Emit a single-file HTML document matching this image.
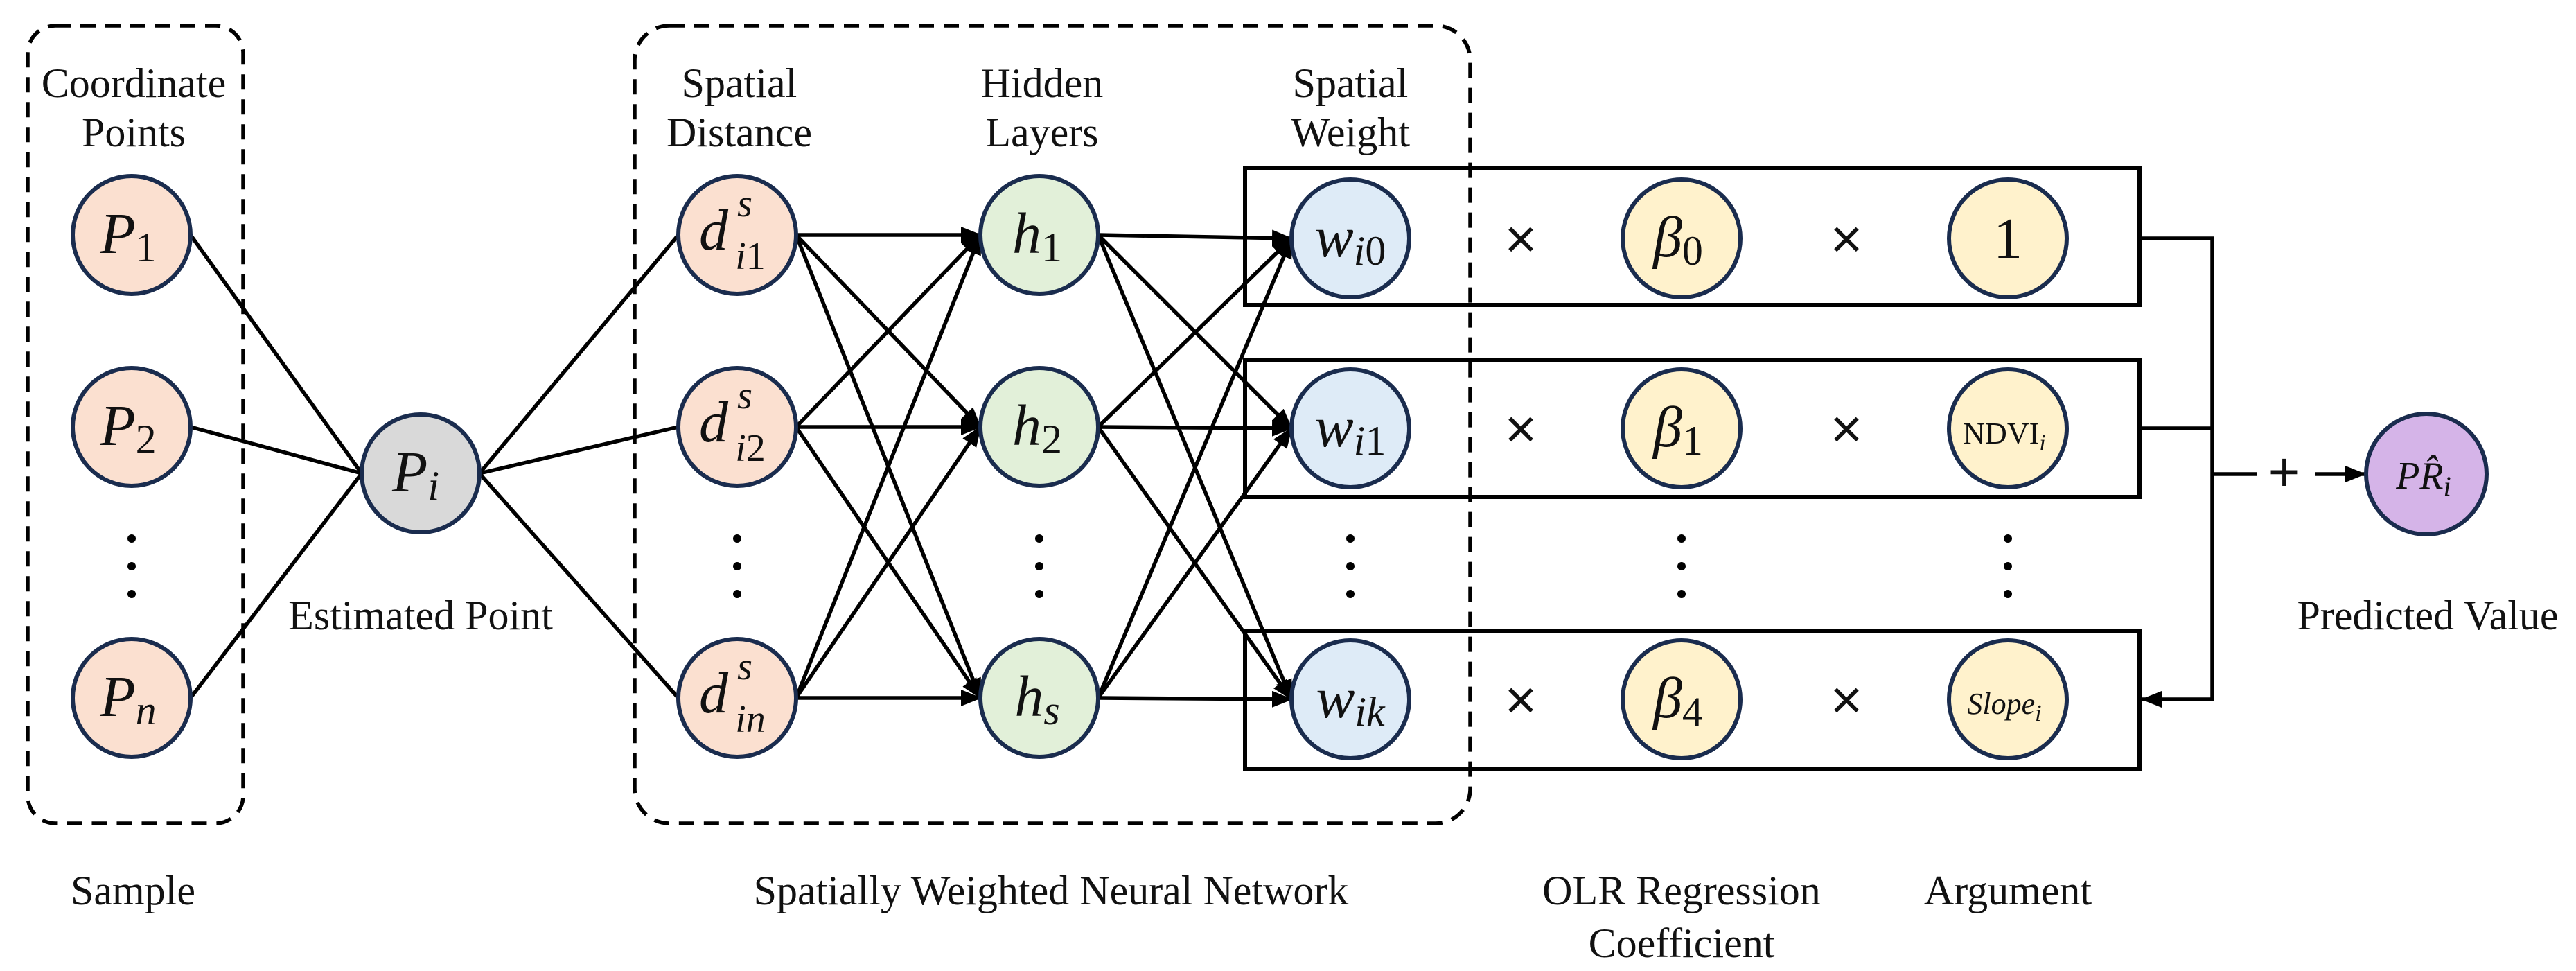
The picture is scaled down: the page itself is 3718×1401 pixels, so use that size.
<!DOCTYPE html>
<html><head><meta charset="utf-8"><style>
html,body{margin:0;padding:0;background:#fff;}
svg{display:block;}
.lbl{font-family:"Liberation Serif",serif;font-size:60px;fill:#111;text-anchor:middle;}
.m{font-family:"Liberation Serif",serif;font-style:italic;font-size:84px;fill:#111;text-anchor:middle;}
.n{stroke:#1a2c4e;stroke-width:6;}
.e{stroke:#000;stroke-width:5.5;fill:none;}
</style></head><body>
<svg width="3718" height="1401" viewBox="0 0 3718 1401" xmlns="http://www.w3.org/2000/svg">
<defs>
<marker id="b" markerWidth="30" markerHeight="24" refX="28" refY="12" orient="auto" markerUnits="userSpaceOnUse">
<path d="M0,0 L30,12 L0,24 Z" fill="#000"/>
</marker>
</defs>

<rect x="40" y="37" width="311" height="1151" rx="40" fill="none" stroke="#000" stroke-width="5.5" stroke-dasharray="22,14"/>
<rect x="916" y="37" width="1206" height="1151" rx="50" fill="none" stroke="#000" stroke-width="5.5" stroke-dasharray="22,14"/>

<rect x="1797" y="243" width="1291" height="197" fill="none" stroke="#000" stroke-width="6"/>
<rect x="1797" y="520" width="1291" height="197" fill="none" stroke="#000" stroke-width="6"/>
<rect x="1797" y="911" width="1291" height="199" fill="none" stroke="#000" stroke-width="6"/>

<g class="e">
<line x1="275" y1="339" x2="522" y2="683"/>
<line x1="275" y1="616" x2="522" y2="683"/>
<line x1="275" y1="1007" x2="522" y2="683"/>
<line x1="692" y1="683" x2="979" y2="339"/>
<line x1="692" y1="683" x2="979" y2="616"/>
<line x1="692" y1="683" x2="979" y2="1007"/>
</g>
<g class="e" marker-end="url(#b)">
<line x1="1149" y1="339" x2="1415" y2="339"/><line x1="1149" y1="339" x2="1415" y2="616"/><line x1="1149" y1="339" x2="1415" y2="1007"/>
<line x1="1149" y1="616" x2="1415" y2="339"/><line x1="1149" y1="616" x2="1415" y2="616"/><line x1="1149" y1="616" x2="1415" y2="1007"/>
<line x1="1149" y1="1007" x2="1415" y2="339"/><line x1="1149" y1="1007" x2="1415" y2="616"/><line x1="1149" y1="1007" x2="1415" y2="1007"/>
</g>
<g class="e" marker-end="url(#b)">
<line x1="1585" y1="339" x2="1864" y2="344"/><line x1="1585" y1="339" x2="1864" y2="618"/><line x1="1585" y1="339" x2="1864" y2="1009"/>
<line x1="1585" y1="616" x2="1864" y2="344"/><line x1="1585" y1="616" x2="1864" y2="618"/><line x1="1585" y1="616" x2="1864" y2="1009"/>
<line x1="1585" y1="1007" x2="1864" y2="344"/><line x1="1585" y1="1007" x2="1864" y2="618"/><line x1="1585" y1="1007" x2="1864" y2="1009"/>
</g>

<polyline points="3088,344 3193,344 3193,1009 3092,1009" class="e" stroke-width="6" marker-end="url(#b)"/>
<line x1="3088" y1="618" x2="3193" y2="618" class="e" stroke-width="6"/>
<line x1="3193" y1="684" x2="3258" y2="684" class="e" stroke-width="6"/>
<line x1="3342" y1="684" x2="3413" y2="684" class="e" stroke-width="6" marker-end="url(#b)"/>
<text x="3297" y="708" class="lbl" style="font-size:80px;font-family:'Liberation Sans',sans-serif">+</text>

<g class="n">
<circle cx="190" cy="339" r="85" fill="#fbe0d0"/>
<circle cx="190" cy="616" r="85" fill="#fbe0d0"/>
<circle cx="190" cy="1007" r="85" fill="#fbe0d0"/>
<circle cx="607" cy="683" r="85" fill="#d9d9d9"/>
<circle cx="1064" cy="339" r="85" fill="#fbe0d0"/>
<circle cx="1064" cy="616" r="85" fill="#fbe0d0"/>
<circle cx="1064" cy="1007" r="85" fill="#fbe0d0"/>
<circle cx="1500" cy="339" r="85" fill="#e2f0d9"/>
<circle cx="1500" cy="616" r="85" fill="#e2f0d9"/>
<circle cx="1500" cy="1007" r="85" fill="#e2f0d9"/>
<circle cx="1949" cy="344" r="85" fill="#deebf7"/>
<circle cx="1949" cy="618" r="85" fill="#deebf7"/>
<circle cx="1949" cy="1009" r="85" fill="#deebf7"/>
<circle cx="2427" cy="344" r="85" fill="#fff2cc"/>
<circle cx="2427" cy="618" r="85" fill="#fff2cc"/>
<circle cx="2427" cy="1009" r="85" fill="#fff2cc"/>
<circle cx="2898" cy="344" r="85" fill="#fff2cc"/>
<circle cx="2898" cy="618" r="85" fill="#fff2cc"/>
<circle cx="2898" cy="1009" r="85" fill="#fff2cc"/>
<circle cx="3502" cy="684" r="87" fill="#d5b4e8"/>
</g>

<g fill="#000">
<circle cx="190" cy="777" r="6"/><circle cx="190" cy="817" r="6"/><circle cx="190" cy="857" r="6"/>
<circle cx="1064" cy="777" r="6"/><circle cx="1064" cy="817" r="6"/><circle cx="1064" cy="857" r="6"/>
<circle cx="1500" cy="777" r="6"/><circle cx="1500" cy="817" r="6"/><circle cx="1500" cy="857" r="6"/>
<circle cx="1949" cy="777" r="6"/><circle cx="1949" cy="817" r="6"/><circle cx="1949" cy="857" r="6"/>
<circle cx="2427" cy="777" r="6"/><circle cx="2427" cy="817" r="6"/><circle cx="2427" cy="857" r="6"/>
<circle cx="2898" cy="777" r="6"/><circle cx="2898" cy="817" r="6"/><circle cx="2898" cy="857" r="6"/>
</g>

<g class="m">
<text x="185" y="365">P<tspan font-style="normal" font-size="60" dy="12">1</tspan></text>
<text x="185" y="642">P<tspan font-style="normal" font-size="60" dy="12">2</tspan></text>
<text x="185" y="1033">P<tspan font-size="60" dy="12">n</tspan></text>
<text x="600" y="709">P<tspan font-size="60" dy="12">i</tspan></text>

<text x="1030" y="360">d</text>
<text x="1075" y="312" font-size="56">s</text>
<text x="1083" y="388" font-size="56">i<tspan font-style="normal">1</tspan></text>
<text x="1030" y="637">d</text>
<text x="1075" y="589" font-size="56">s</text>
<text x="1083" y="665" font-size="56">i<tspan font-style="normal">2</tspan></text>
<text x="1030" y="1028">d</text>
<text x="1075" y="980" font-size="56">s</text>
<text x="1083" y="1056" font-size="56">in</text>

<text x="1497" y="365">h<tspan font-style="normal" font-size="60" dy="12">1</tspan></text>
<text x="1497" y="642">h<tspan font-style="normal" font-size="60" dy="12">2</tspan></text>
<text x="1497" y="1033">h<tspan font-size="60" dy="12">s</tspan></text>
<text x="1949" y="370">w<tspan font-size="60" dy="12">i</tspan><tspan font-style="normal" font-size="60">0</tspan></text>
<text x="1949" y="644">w<tspan font-size="60" dy="12">i</tspan><tspan font-style="normal" font-size="60">1</tspan></text>
<text x="1949" y="1035">w<tspan font-size="60" dy="12">ik</tspan></text>
<text x="2422" y="370">β<tspan font-style="normal" font-size="60" dy="12">0</tspan></text>
<text x="2422" y="644">β<tspan font-style="normal" font-size="60" dy="12">1</tspan></text>
<text x="2422" y="1035">β<tspan font-style="normal" font-size="60" dy="12">4</tspan></text>
<text x="2898" y="372" font-style="normal">1</text>
<text x="2893" y="640" font-style="normal" font-size="44">NDVI<tspan font-style="italic" font-size="34" dy="10">i</tspan></text>
<text x="2893" y="1030" font-size="44">Slope<tspan font-size="34" dy="10">i</tspan></text>
<text x="3498" y="705" font-size="56">PR̂<tspan font-size="40" dy="10">i</tspan></text>
</g>

<g class="lbl" style="font-size:80px;font-family:'Liberation Sans',sans-serif">
<text x="2195" y="372">×</text><text x="2665" y="372">×</text>
<text x="2195" y="646">×</text><text x="2665" y="646">×</text>
<text x="2195" y="1037">×</text><text x="2665" y="1037">×</text>
</g>

<g class="lbl">
<text x="193" y="140">Coordinate</text>
<text x="193" y="211">Points</text>
<text x="1067" y="140">Spatial</text>
<text x="1067" y="211">Distance</text>
<text x="1504" y="140">Hidden</text>
<text x="1504" y="211">Layers</text>
<text x="1949" y="140">Spatial</text>
<text x="1949" y="211">Weight</text>
<text x="607" y="908">Estimated Point</text>
<text x="3504" y="908">Predicted Value</text>
<text x="192" y="1305">Sample</text>
<text x="1517" y="1305">Spatially Weighted Neural Network</text>
<text x="2427" y="1305">OLR Regression</text>
<text x="2427" y="1381">Coefficient</text>
<text x="2898" y="1305">Argument</text>
</g>
</svg>
</body></html>
